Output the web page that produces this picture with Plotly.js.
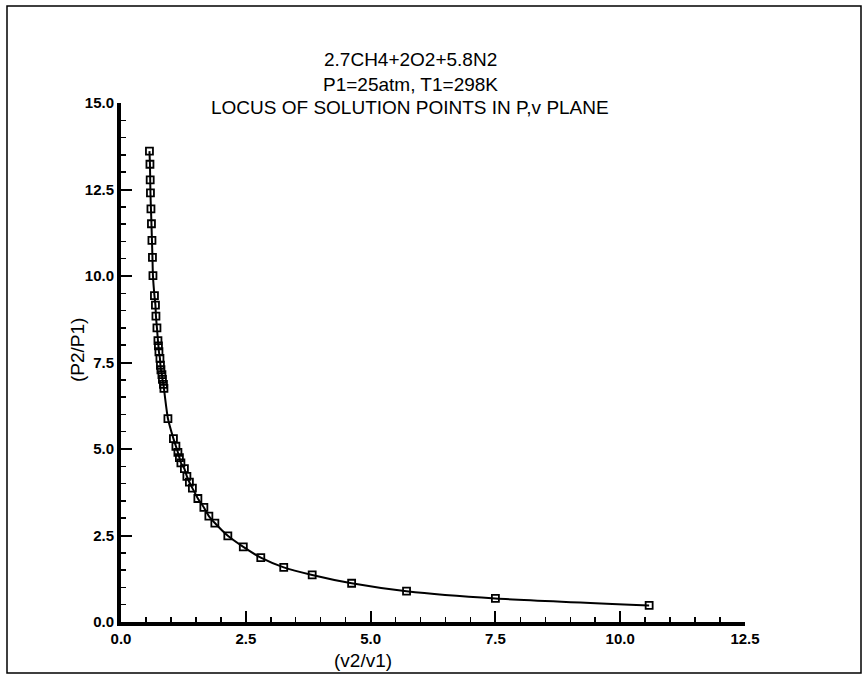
<!DOCTYPE html>
<html>
<head>
<meta charset="utf-8">
<script src="https://cdn.plot.ly/plotly-3.0.1.min.js"></script>
<style>
  html, body { margin: 0; padding: 0; background: #fff; }
  #chart { width: 867px; height: 678px; }
</style>
</head>
<body>
<div id="chart"></div>
<script>
// Volume ratio (v2/v1) of solution points
const volumeRatio = [0.57, 0.58, 0.585, 0.59, 0.60, 0.61, 0.62, 0.63, 0.64,
  0.67, 0.69, 0.70, 0.72, 0.74, 0.75, 0.76, 0.78, 0.79, 0.80, 0.82, 0.83, 0.85, 0.86,
  0.94, 1.05, 1.10, 1.14, 1.17, 1.20, 1.27, 1.32, 1.37, 1.43, 1.54, 1.66, 1.76, 1.88,
  2.14, 2.45, 2.80, 3.26, 3.83, 4.62, 5.72, 7.50, 10.58];
// Pressure ratio (P2/P1) of solution points
const pressureRatio = [13.61, 13.23, 12.78, 12.40, 11.94, 11.51, 11.03, 10.54, 10.01,
  9.43, 9.16, 8.84, 8.50, 8.13, 7.98, 7.81, 7.62, 7.42, 7.29, 7.15, 7.01, 6.87, 6.75,
  5.88, 5.30, 5.08, 4.90, 4.75, 4.60, 4.43, 4.21, 4.04, 3.87, 3.57, 3.31, 3.06, 2.86,
  2.49, 2.17, 1.86, 1.58, 1.36, 1.12, 0.89, 0.68, 0.48];

const titleLines = ["2.7CH4+2O2+5.8N2", "P1=25atm, T1=298K", "LOCUS OF SOLUTION POINTS IN P,v PLANE"];
const xTitle = "(v2/v1)";
const yTitle = "(P2/P1)";

const FONT = "Liberation Sans, Arial, Helvetica, sans-serif";

const trace = {
  x: volumeRatio,
  y: pressureRatio,
  type: "scatter",
  mode: "lines+markers",
  line: { color: "#000", width: 2, shape: "spline", smoothing: 0.6 },
  marker: { symbol: "square-open", size: 7, color: "#000", line: { color: "#000", width: 1.8 } },
  hoverinfo: "skip",
  showlegend: false
};

const W = 867, H = 678;
const L = 121, R = 122, T = 103, B = 56;
const pw = W - L - R, ph = H - T - B;
function px2x(p) { return (p - L) / pw; }
function py2y(p) { return (H - B - p) / ph; }

const titleY = [60, 84, 108];
const annotations = titleLines.map((t, i) => ({
  text: t, xref: "paper", yref: "paper",
  x: px2x(410), y: py2y(titleY[i]), xanchor: "center", yanchor: "middle",
  showarrow: false, font: { family: FONT, size: 19, color: "#000" }
}));
annotations.push({
  text: xTitle, xref: "paper", yref: "paper",
  x: px2x(363), y: py2y(660), xanchor: "center", yanchor: "middle",
  showarrow: false, font: { family: FONT, size: 19, color: "#000" }
});
annotations.push({
  text: yTitle, xref: "paper", yref: "paper", textangle: -90,
  x: px2x(77), y: py2y(350), xanchor: "center", yanchor: "middle",
  showarrow: false, font: { family: FONT, size: 19, color: "#000" }
});

const axisCommon = {
  showgrid: false, zeroline: false, showline: true,
  linecolor: "#000", linewidth: 4,
  ticks: "inside", ticklen: 11, tickwidth: 2, tickcolor: "#000",
  dtick: 2.5, tick0: 0, tickformat: ".1f",
  tickfont: { family: FONT, size: 15, color: "#000", weight: "bold" },
  minor: { dtick: 0.5, ticks: "inside", ticklen: 5, tickwidth: 1.5, tickcolor: "#000" },
  fixedrange: true
};

const layout = {
  width: W, height: H,
  margin: { l: L, r: R, t: T, b: B },
  paper_bgcolor: "#fff", plot_bgcolor: "#fff",
  xaxis: Object.assign({}, axisCommon, { range: [0, 12.5] }),
  yaxis: Object.assign({}, axisCommon, { range: [0, 15] }),
  annotations: annotations,
  shapes: [{
    type: "rect", xref: "paper", yref: "paper",
    x0: px2x(7), x1: px2x(861), y0: py2y(673), y1: py2y(6),
    line: { color: "#000", width: 1.5 }, fillcolor: "rgba(0,0,0,0)"
  }]
};

Plotly.newPlot("chart", [trace], layout, { displayModeBar: false, staticPlot: true });
</script>
</body>
</html>
